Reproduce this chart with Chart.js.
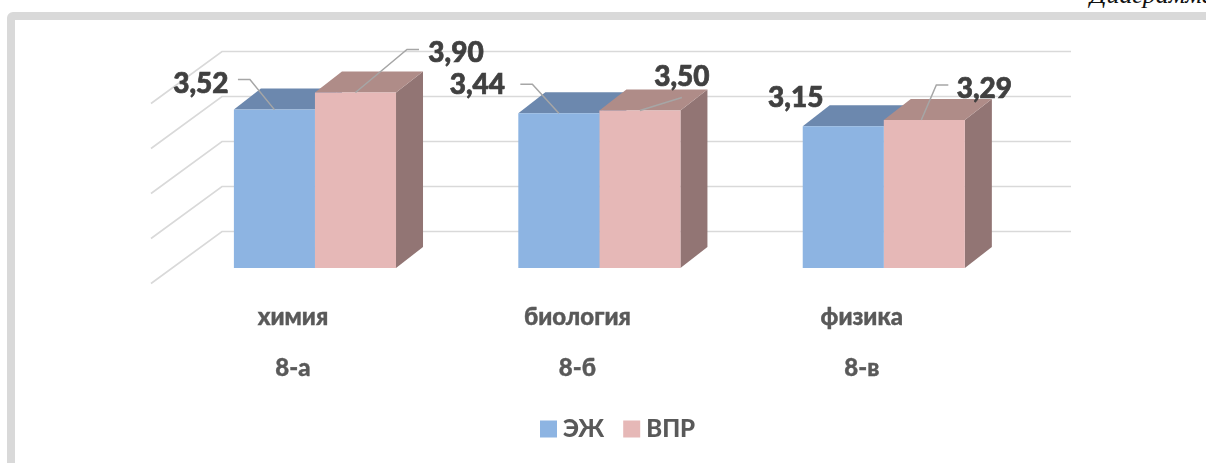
<!DOCTYPE html>
<html><head><meta charset="utf-8">
<style>
html,body{margin:0;padding:0;background:#fff;overflow:hidden;width:1206px;height:463px}
#frame{position:absolute;left:7px;top:12px;width:1300px;height:600px;border:8px solid #D9D9D9;border-radius:6px;box-sizing:border-box}
#cap{position:absolute;left:1090px;top:-20px;font:italic 26px "Liberation Serif",serif;color:#111;white-space:nowrap}
#wrap{position:absolute;left:0;top:0;width:1206px;height:463px}
</style></head><body>
<div id="cap">Диаграмма</div>
<div id="frame"></div>
<div id="wrap"><canvas id="c" width="1206" height="463"></canvas></div>
<script src="https://cdn.jsdelivr.net/npm/chart.js@4"></script>
<script>
const subjects = ['химия','биология','физика'];
const classes = ['8-а','8-б','8-в'];
const seriesNames = ['ЭЖ','ВПР'];
const ejValues = [3.52,3.44,3.15];
const vprValues = [3.90,3.50,3.29];
const axisTicks = [0,1,2,3,4];

const frontColors = ['#8DB4E2','#E6B8B7'];
const topColors = ['#6C88AE','#AF8C88'];
const sideColors = ['#6C88AE','#927574'];
const depth = {dx:27, dy:-21};
const wall = {dy:-36.5, left:222, right:1071, floorDx:-71, floorDy:52};
const FONT = 'Lato, "Open Sans", sans-serif';

// label centre, relative to the top centre of the bar
const labelOffsets = [
  [[-73.5,-26],[-81.5,-28],[-47.5,-28]],
  [[100.5,-40],[42,-34],[60,-31]]
];
const leaders = [
  [[[-36.5,-30],[-24.5,-30],[0,0]], [[-38.5,-29],[-26.5,-29],[0,0]], null],
  [[[63.5,-43],[51.5,-43],[0,0]], [[42,-13],[0,0]], [[24,-35],[12,-35],[-3,0]]]
];

const scene = {
  id:'scene',
  afterLayout(chart){
    const l = chart.legend;
    const w = l.width, h = l.height;
    l.left = 521; l.right = 521 + w;
    const top = 417 - l.options.labels.padding;
    l.top = top; l.bottom = top + h;
  },
  beforeDatasetsDraw(chart){
    const ctx = chart.ctx, y = chart.scales.y;
    ctx.save();
    ctx.strokeStyle = '#D9D9D9'; ctx.lineWidth = 1.6;
    axisTicks.forEach(v=>{
      const p = y.getPixelForValue(v) + wall.dy;
      ctx.beginPath();
      ctx.moveTo(wall.left + wall.floorDx, p + wall.floorDy);
      ctx.lineTo(wall.left, p);
      ctx.lineTo(wall.right, p);
      ctx.stroke();
    });
    chart.data.datasets.forEach((ds,i)=>{
      chart.getDatasetMeta(i).data.forEach(b=>{
        const w = b.width/2, l = b.x-w, r = b.x+w, t = b.y, base = b.base;
        ctx.fillStyle = sideColors[i];
        ctx.beginPath();
        ctx.moveTo(r,t); ctx.lineTo(r+depth.dx,t+depth.dy);
        ctx.lineTo(r+depth.dx,base+depth.dy); ctx.lineTo(r,base);
        ctx.closePath(); ctx.fill();
        ctx.fillStyle = topColors[i];
        ctx.beginPath();
        ctx.moveTo(l,t); ctx.lineTo(l+depth.dx,t+depth.dy);
        ctx.lineTo(r+depth.dx,t+depth.dy); ctx.lineTo(r,t);
        ctx.closePath(); ctx.fill();
      });
    });
    ctx.restore();
  },
  afterDatasetsDraw(chart){
    const ctx = chart.ctx;
    ctx.save();
    chart.data.datasets.forEach((ds,i)=>{
      chart.getDatasetMeta(i).data.forEach((b,j)=>{
        const ax = b.x, ay = b.y;
        const pts = leaders[i][j];
        if(pts){
          ctx.strokeStyle = '#A6A6A6'; ctx.lineWidth = 1.5;
          ctx.beginPath();
          pts.forEach((q,k)=> k ? ctx.lineTo(ax+q[0],ay+q[1]) : ctx.moveTo(ax+q[0],ay+q[1]));
          ctx.stroke();
        }
        const o = labelOffsets[i][j];
        const txt = ds.data[j].toFixed(2).replace('.',',');
        ctx.font = '900 28px '+FONT;
        ctx.fillStyle = '#404040';
        ctx.strokeStyle = '#404040'; ctx.lineWidth = 0.7;
        ctx.textAlign = 'center'; ctx.textBaseline = 'middle';
        ctx.fillText(txt, ax+o[0], ay+o[1]);
        ctx.strokeText(txt, ax+o[0], ay+o[1]);
      });
    });
    ctx.restore();
  }
};

new Chart(document.getElementById('c'),{
  type:'bar',
  data:{
    labels: subjects.map((s,i)=>[s,classes[i]]),
    datasets:[
      {label:seriesNames[0],data:ejValues,backgroundColor:frontColors[0],categoryPercentage:0.57,barPercentage:1},
      {label:seriesNames[1],data:vprValues,backgroundColor:frontColors[1],categoryPercentage:0.57,barPercentage:1}
    ]
  },
  options:{
    responsive:false,animation:false,
    layout:{padding:{left:172.75,right:180,top:88,bottom:0}},
    scales:{
      x:{
        grid:{display:false},border:{display:false},
        afterFit(a){a.height = 136;},
        ticks:{autoSkip:false,maxRotation:0,minRotation:0,labelOffset:-22,padding:16,color:'#595959',
          textStrokeColor:'#595959',textStrokeWidth:0.4,
          font:{family:FONT,weight:'900',size:24,lineHeight:2.125}}
      },
      y:{display:false,min:0,max:4,ticks:{stepSize:1}}
    },
    plugins:{
      tooltip:{enabled:false},
      legend:{
        position:'bottom',
        align:'start',
        labels:{
          boxWidth:5,boxHeight:5,padding:25,color:'#595959',
          font:{family:FONT,weight:'900',size:24},
          generateLabels(chart){
            return chart.data.datasets.map((d,i)=>({text:d.label,fillStyle:frontColors[i],strokeStyle:frontColors[i],lineWidth:12,datasetIndex:i,hidden:false,fontColor:'#595959'}));
          }
        }
      }
    }
  },
  plugins:[scene]
});
</script>
</body></html>
